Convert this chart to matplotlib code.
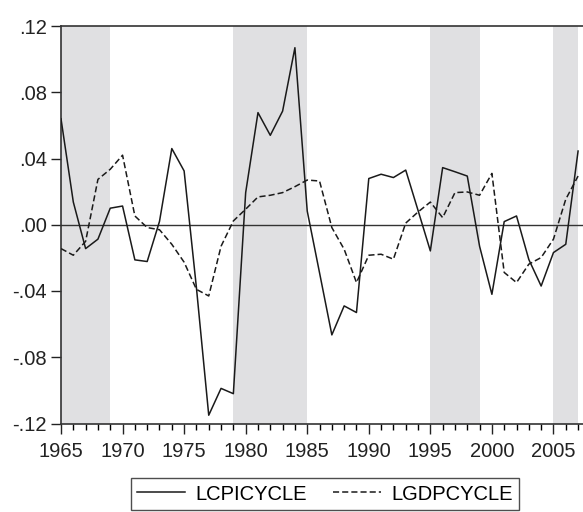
import numpy as np
import matplotlib.pyplot as plt

plt.rcParams['font.family'] = ['Liberation Sans', 'DejaVu Sans']

years = np.arange(1965, 2008)
lcpicycle = [0.064, 0.0137, -0.0144, -0.0087, 0.010, 0.0113, -0.0212, -0.0222, 0.002, 0.046,
             0.0325, -0.038, -0.115, -0.0988, -0.102, 0.0194, 0.0677, 0.054, 0.0686, 0.1069,
             0.0083, -0.029, -0.0665, -0.049, -0.053, 0.0279, 0.0305, 0.0285, 0.033, 0.0087,
             -0.0158, 0.0345, 0.032, 0.0294, -0.013, -0.042, 0.0019, 0.0053, -0.021, -0.037,
             -0.0168, -0.0118, 0.0445]
lgdpcycle = [-0.0144, -0.0184, -0.010, 0.0274, 0.0335, 0.042, 0.0053, -0.0017, -0.003, -0.0118,
             -0.0226, -0.039, -0.043, -0.013, 0.0023, 0.0094, 0.0168, 0.0178, 0.0194, 0.023,
             0.027, 0.0264, -0.0017, -0.0148, -0.0349, -0.0184, -0.0178, -0.0208, 0.001, 0.0077,
             0.0137, 0.0043, 0.0194, 0.0198, 0.0178, 0.031, -0.0288, -0.0349, -0.0238, -0.0198,
             -0.0087, 0.0154, 0.0294]
shade_start = [1965, 1979, 1995, 2005]
shade_end = [1969, 1985, 1999, 2007]

fig = plt.figure(figsize=(5.83, 5.12), dpi=100)
ax = fig.add_axes([61/583, 88.5/512, 1 - 61/583, 397.5/512])

for a, b in zip(shade_start, shade_end):
    ax.axvspan(a, b, color='#e0e0e2', lw=0, zorder=0)

ax.axhline(0, color='#333333', lw=1.0, zorder=1)
l1, = ax.plot(years, lcpicycle, color='#1a1a1a', lw=1.1, label='LCPICYCLE', zorder=3)
l2, = ax.plot(years, lgdpcycle, color='#1a1a1a', lw=1.1, ls=(0, (4, 2)), label='LGDPCYCLE', zorder=3)

ax.set_xlim(1965, 2007.4)
ax.set_ylim(-0.12, 0.12)

yt = [-0.12, -0.08, -0.04, 0.0, 0.04, 0.08, 0.12]
ax.set_yticks(yt)
ax.set_yticklabels(['-.12', '-.08', '-.04', '.00', '.04', '.08', '.12'])
ax.set_xticks(range(1965, 2006, 5))
ax.set_xticks(range(1965, 2008), minor=True)
ax.tick_params(axis='both', labelsize=14.5, colors='#222222', width=1, direction='out')
ax.tick_params(axis='y', length=7, pad=3)
ax.tick_params(axis='x', which='major', length=7, pad=6)
ax.tick_params(axis='x', which='minor', length=4, width=1)

for s in ['left', 'top', 'bottom']:
    ax.spines[s].set_color('#333333')
    ax.spines[s].set_linewidth(1.2)
ax.spines['right'].set_visible(False)

leg = fig.legend(handles=[l1, l2], loc='center', bbox_to_anchor=(325/583, 18/512), ncol=2,
                 fontsize=14.5, frameon=True, fancybox=False, edgecolor='#222222',
                 handlelength=2.4, handletextpad=0.5, columnspacing=1.3, borderpad=0.3)
leg.get_frame().set_linewidth(1.0)

fig.savefig('out.png', dpi=100)
